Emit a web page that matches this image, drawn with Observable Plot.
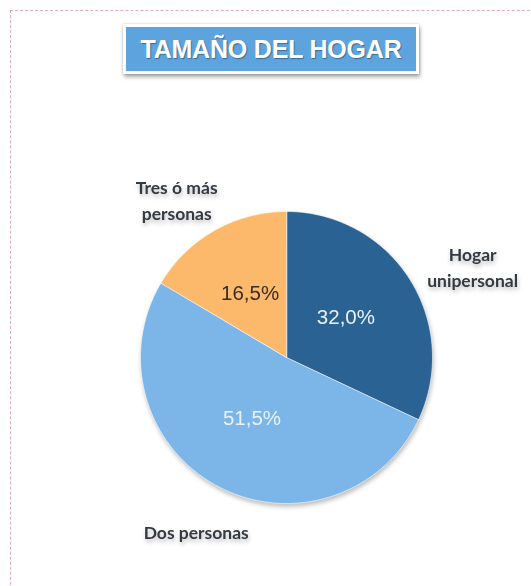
<!DOCTYPE html>
<html>
<head>
<meta charset="utf-8">
<script src="https://cdn.jsdelivr.net/npm/d3@7"></script>
<script src="https://cdn.jsdelivr.net/npm/@observablehq/plot@0.6"></script>
<style>
  html, body { margin: 0; padding: 0; background: #fff; }
  #wrap { position: relative; width: 531px; height: 586px; overflow: hidden; background: #fff; }
  #frame { position: absolute; left: 10px; top: 10px; width: 560px; height: 620px;
           border-top: 1.5px dashed #e3a9b8; border-left: 1.5px dashed #e3a9b8; box-sizing: border-box; }
  #title { position: absolute; left: 123px; top: 24px; width: 290px; height: 44px;
           background: #5da4df; border: 3px solid #fff;
           box-shadow: 1px 3px 4px rgba(0,0,0,0.35), 0 0 2px rgba(0,0,0,0.2);
           color: #fff; font: bold 25px "Liberation Sans", Arial, sans-serif;
           text-align: center; line-height: 44px; letter-spacing: -0.2px;
           text-shadow: 1px 1px 1px rgba(0,0,0,0.35); }
  #chart { position: absolute; left: 0; top: 0; }
  #chart svg { filter: drop-shadow(1px 3px 2px rgba(0,0,0,0.25)); }
</style>
</head>
<body>
<div id="wrap">
  <div id="frame"></div>
  <div id="chart"></div>
  <div id="title">TAMAÑO DEL HOGAR</div>
</div>
<script>
const categories = ["Hogar unipersonal", "Dos personas", "Tres ó más personas"];
const values = [32.0, 51.5, 16.5];
const valueLabels = ["32,0%", "51,5%", "16,5%"];
const labelLines = [["Hogar", "unipersonal"], ["Dos personas"], ["Tres ó más", "personas"]];
const colors = ["#2a6293", "#7cb5e8", "#fdb96b"];
const valueTextColors = ["#e8f0f8", "#e8f2fb", "#3a2c1e"];

const W = 531, H = 586;
const cx = 286, cy = 357, R = 146;

// pie angles (clockwise from 12 o'clock)
const arcs = d3.pie().sort(null).value(d => d.value)(
  categories.map((c, i) => ({category: c, value: values[i], i}))
);

// polygon points for each slice, in unit-radius data coordinates
const pts = [];
for (const a of arcs) {
  const n = Math.max(2, Math.ceil((a.endAngle - a.startAngle) / 0.01));
  pts.push({category: a.data.category, x: 0, y: 0});
  for (let k = 0; k <= n; k++) {
    const t = a.startAngle + (a.endAngle - a.startAngle) * k / n;
    pts.push({category: a.data.category, x: Math.sin(t), y: Math.cos(t)});
  }
}

const mid = a => (a.startAngle + a.endAngle) / 2;
const inner = arcs.map(a => ({
  category: a.data.category,
  x: 0.49 * Math.sin(mid(a)), y: 0.49 * Math.cos(mid(a)),
  label: valueLabels[a.data.i], color: valueTextColors[a.data.i]
}));
const outer = arcs.map(a => ({
  category: a.data.category,
  x: 1.38 * Math.sin(mid(a)), y: 1.38 * Math.cos(mid(a)),
  label: labelLines[a.data.i].join("\n"), i: a.data.i
}));

const outerOffsets = [[16, 16], [4, -5], [-10, 16]];

const font = "Lato, 'Open Sans', sans-serif";

const chart = Plot.plot({
  width: W, height: H,
  margin: 0,
  x: {domain: [-cx / R, (W - cx) / R], range: [0, W], axis: null},
  y: {domain: [-(H - cy) / R, cy / R], range: [H, 0], axis: null},
  color: {domain: categories, range: colors},
  style: {background: "transparent", overflow: "visible"},
  marks: [
    Plot.line(pts, {x: "x", y: "y", z: "category", fill: "category",
      stroke: "#ffffff", strokeWidth: 1, strokeOpacity: 0.6, curve: "linear-closed"}),
    Plot.text(inner, {x: "x", y: "y", text: "label", fill: "color", dx: -1, dy: -2,
      fontFamily: "'Liberation Sans', Arial, sans-serif", fontSize: 20.5}),
    ...outer.map(o => Plot.text([o], {x: "x", y: "y", text: "label",
      dx: outerOffsets[o.i][0], dy: outerOffsets[o.i][1],
      fill: "#333a44", fontFamily: font, fontWeight: "bold", fontSize: 17.5, lineHeight: 1.48}))
  ]
});
document.getElementById("chart").appendChild(chart);
</script>
</body>
</html>
